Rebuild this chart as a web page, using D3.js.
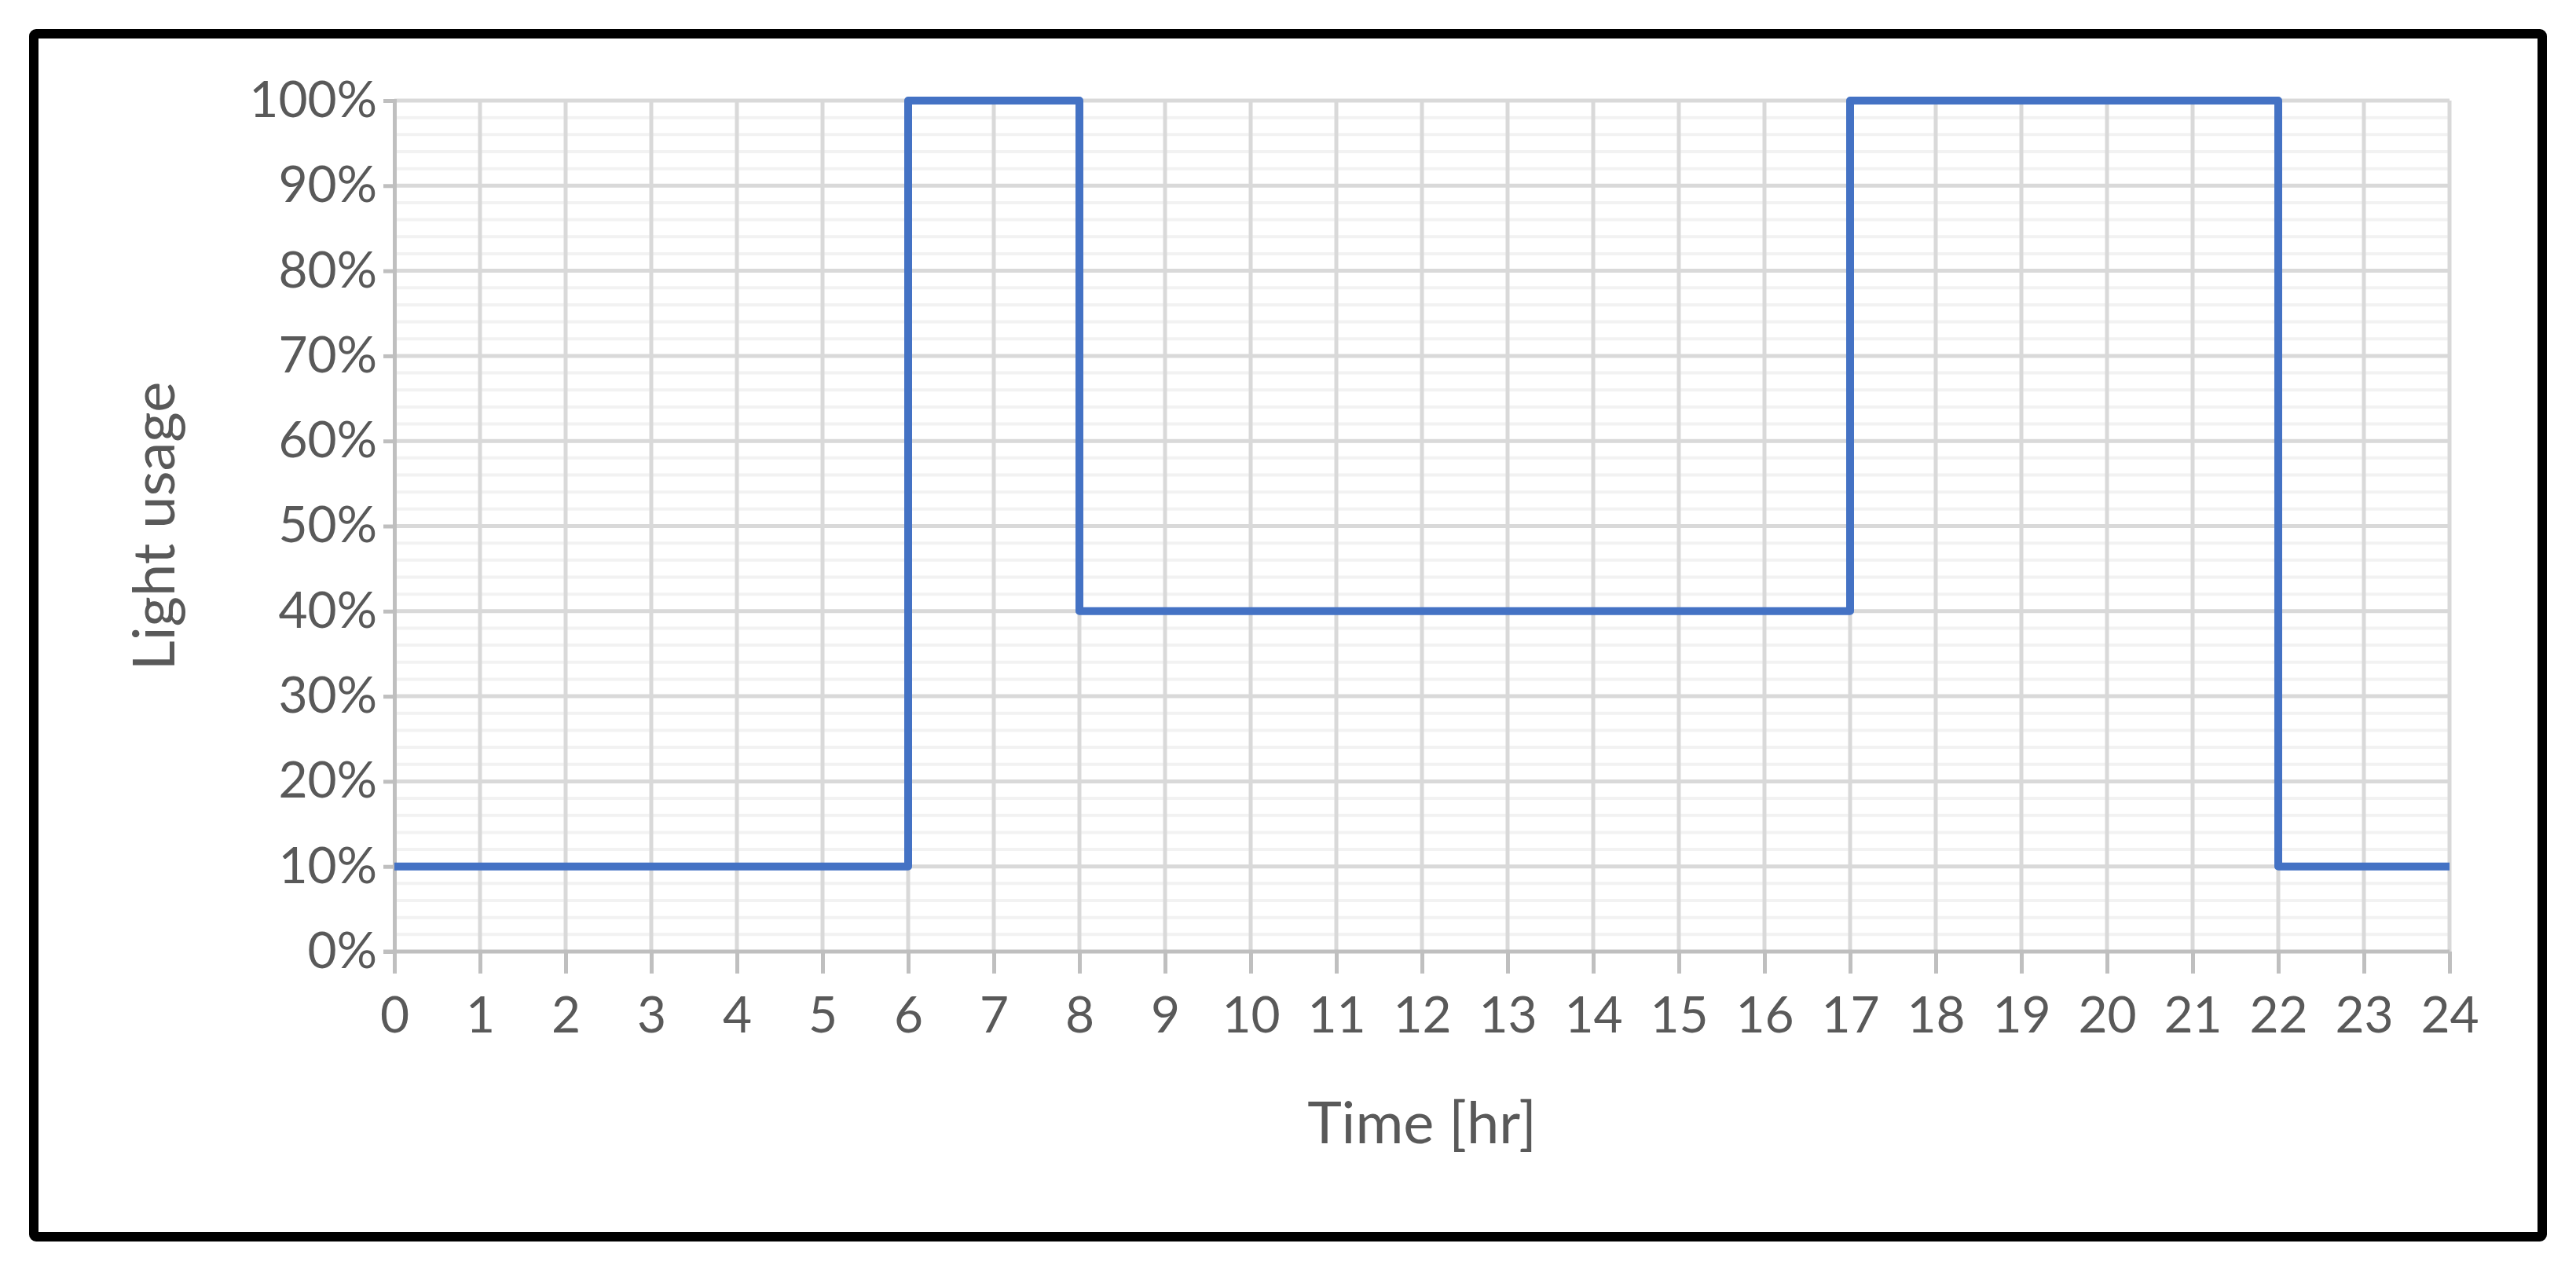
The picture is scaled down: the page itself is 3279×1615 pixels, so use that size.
<!DOCTYPE html>
<html><head><meta charset="utf-8">
<script src="https://cdn.jsdelivr.net/npm/d3@7/dist/d3.min.js"></script>
<style>body{margin:0;background:#fff}</style></head>
<body><svg id="c" width="3279" height="1615"></svg>
<script>
const hours = [0,6,6,8,8,17,17,22,22,24];
const usage = [0.1,0.1,1.0,1.0,0.4,0.4,1.0,1.0,0.1,0.1];
const xTicks = d3.range(0,25);
const yTicks = [0,0.1,0.2,0.3,0.4,0.5,0.6,0.7,0.8,0.9,1.0];
const yMinor = d3.range(0,1.001,0.02);
const xTitle = "Time [hr]", yTitle = "Light usage";

const svg = d3.select("#c");
const font = "Lato, 'Open Sans', sans-serif";
svg.append("rect").attr("x",43).attr("y",43).attr("width",3193).attr("height",1531)
  .attr("fill","#fff").attr("stroke","#000").attr("stroke-width",12).attr("rx",3);
const x = d3.scaleLinear().domain([0,24]).range([502,3118]);
const y = d3.scaleLinear().domain([0,1]).range([1211,128]);
const g = svg.append("g");
g.selectAll(".mn").data(yMinor).join("line").attr("x1",x(0)).attr("x2",x(24))
  .attr("y1",d=>y(d)).attr("y2",d=>y(d)).attr("stroke","#f2f2f2").attr("stroke-width",4);
g.selectAll(".vx").data(xTicks.slice(1)).join("line").attr("x1",d=>x(d)).attr("x2",d=>x(d))
  .attr("y1",y(1)).attr("y2",y(0)).attr("stroke","#d9d9d9").attr("stroke-width",5);
g.selectAll(".mj").data(yTicks.slice(1)).join("line").attr("x1",x(0)).attr("x2",x(24))
  .attr("y1",d=>y(d)).attr("y2",d=>y(d)).attr("stroke","#d9d9d9").attr("stroke-width",5);
const yAx = svg.append("g").attr("transform",`translate(${x(0)},0)`)
  .call(d3.axisLeft(y).tickValues(yTicks).tickFormat(d3.format(".0%")).tickSize(14).tickPadding(8));
const xAx = svg.append("g").attr("transform",`translate(0,${y(0)})`)
  .call(d3.axisBottom(x).tickValues(xTicks).tickFormat(d3.format("d")).tickSize(28).tickPadding(30));
[yAx,xAx].forEach(a=>{a.select(".domain").attr("stroke","#bfbfbf").attr("stroke-width",5);
  a.selectAll(".tick line").attr("stroke","#bfbfbf").attr("stroke-width",5);
  a.selectAll("text").attr("fill","#595959").style("font-family",font).style("font-size","64px");});
xAx.select(".domain").attr("d",`M${x(0)-14},0H${x(24)}`);
const line = d3.line().x((d,i)=>x(hours[i])).y(d=>y(d));
svg.append("path").attr("d",line(usage)).attr("fill","none").attr("stroke","#4472c4")
  .attr("stroke-width",10).attr("stroke-linejoin","round");
svg.append("text").attr("x",(x(0)+x(24))/2).attr("y",1455).attr("text-anchor","middle")
  .attr("fill","#595959").style("font-family",font).style("font-size","74px").text(xTitle);
svg.append("text").attr("transform",`translate(222,${(y(0)+y(1))/2}) rotate(-90)`).attr("text-anchor","middle")
  .attr("fill","#595959").style("font-family",font).style("font-size","74px").text(yTitle);
</script></body></html>
